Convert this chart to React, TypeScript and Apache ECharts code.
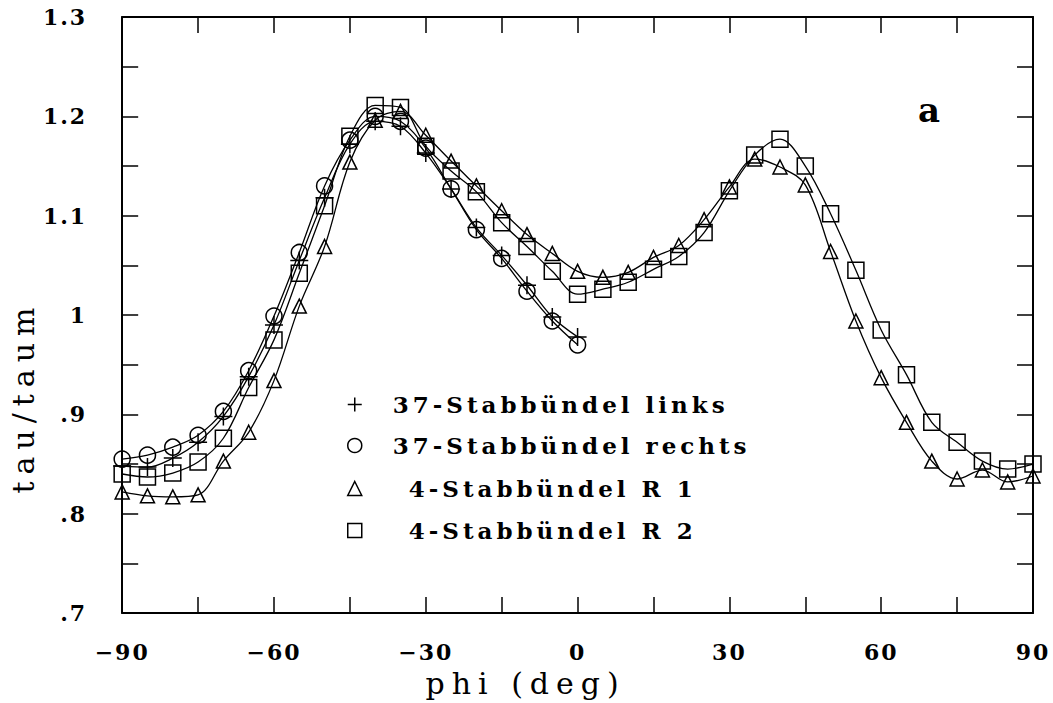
import React, { useEffect, useRef } from "react";
import * as echarts from "echarts";

// phi (deg) sample positions
const phiLinks = [-90, -85, -80, -75, -70, -65, -60, -55, -50, -45, -40, -35, -30, -25, -20, -15, -10, -5, 0];
const phiRods = [-90, -85, -80, -75, -70, -65, -60, -55, -50, -45, -40, -35, -30, -25, -20, -15, -10, -5, 0,
  5, 10, 15, 20, 25, 30, 35, 40, 45, 50, 55, 60, 65, 70, 75, 80, 85, 90];

// tau/taum values
const tauLinks = [0.848, 0.847, 0.856, 0.872, 0.898, 0.938, 0.990, 1.055, 1.118, 1.172, 1.195, 1.190, 1.163, 1.127, 1.088, 1.060, 1.030, 0.998, 0.978];
const tauRechts = [0.855, 0.859, 0.867, 0.879, 0.903, 0.944, 0.999, 1.063, 1.130, 1.176, 1.200, 1.195, 1.168, 1.127, 1.086, 1.057, 1.024, 0.994, 0.970];
const tauR1 = [0.822, 0.818, 0.817, 0.819, 0.853, 0.882, 0.934, 1.009, 1.069, 1.154, 1.196, 1.205, 1.181, 1.155, 1.130, 1.105, 1.081, 1.062, 1.044,
  1.038, 1.043, 1.058, 1.070, 1.096, 1.129, 1.157, 1.149, 1.131, 1.064, 0.994, 0.937, 0.892, 0.853, 0.835, 0.844, 0.832, 0.838];
const tauR2 = [0.840, 0.837, 0.841, 0.852, 0.876, 0.927, 0.975, 1.042, 1.110, 1.180, 1.211, 1.209, 1.170, 1.145, 1.124, 1.093, 1.069, 1.044, 1.021,
  1.026, 1.033, 1.046, 1.059, 1.083, 1.125, 1.161, 1.177, 1.150, 1.102, 1.045, 0.985, 0.940, 0.892, 0.872, 0.853, 0.845, 0.850];

const seriesNames = ["37-Stabbündel links", "37-Stabbündel rechts", "4-Stabbündel R 1", "4-Stabbündel R 2"];
const xTitle = "phi (deg)";
const yTitle = "tau/taum";
const panelLabel = "a";

const FONT = "DejaVu Serif";
const PLUS = "path://M0,-10L0,10M-10,0L10,0";

export default function App() {
  const ref = useRef<HTMLDivElement>(null);
  useEffect(() => {
    const el = ref.current!;
    const chart = echarts.init(el, null, { renderer: "svg" });
    const markStyle = { color: "rgba(0,0,0,0)", borderColor: "#000", borderWidth: 1.5 };
    const line = (name: string, xs: number[], ys: number[], symbol: string, size: number) => ({
      name,
      type: "line",
      data: xs.map((x, i) => [x, ys[i]]),
      smooth: 0.35,
      symbol,
      symbolSize: size,
      showAllSymbol: true,
      lineStyle: { color: "#000", width: 1.3 },
      itemStyle: markStyle,
      emphasis: { disabled: true },
      z: 3,
    });
    const tick = { show: true, inside: true, length: 16, lineStyle: { color: "#000", width: 1.5 } };
    const minor = { show: true, splitNumber: 2, length: 16, lineStyle: { color: "#000", width: 1.5 } };
    const axLine = { show: true, onZero: false, lineStyle: { color: "#000", width: 2 } };
    const xBase = { type: "value", min: -90, max: 90, interval: 30, axisLine: axLine, axisTick: tick, minorTick: minor, splitLine: { show: false } };
    const yBase = { type: "value", min: 0.7, max: 1.3, interval: 0.1, axisLine: axLine, axisTick: tick, minorTick: minor, splitLine: { show: false } };
    const legendBase = {
      orient: "vertical",
      itemWidth: 14,
      itemHeight: 14,
      itemStyle: markStyle,
      selectedMode: false,
      textStyle: { fontFamily: FONT, fontWeight: "bold", fontSize: 23, color: "#000" },
    };
    chart.setOption({
      animation: false,
      backgroundColor: "#fff",
      grid: { left: 122, right: 20, top: 17, bottom: 89 },
      xAxis: [
        {
          ...xBase,
          position: "bottom",
          axisLabel: {
            margin: 28,
            fontFamily: FONT, fontWeight: "bold", fontSize: 22, color: "#000",
            formatter: (v: number) => (v < 0 ? "\u2212" + Math.abs(v) : String(v)),
          },
          name: xTitle,
          nameLocation: "middle",
          nameGap: 45,
          nameTextStyle: { fontFamily: FONT, fontSize: 30, color: "#000", padding: [0, 104, 0, 0] },
        },
        { ...xBase, position: "top", axisLabel: { show: false } },
      ],
      yAxis: [
        {
          ...yBase,
          position: "left",
          axisLabel: {
            margin: 35,
            fontFamily: FONT, fontWeight: "bold", fontSize: 22, color: "#000",
            formatter: (v: number) => {
              const r = Math.round(v * 10) / 10;
              if (r === 1) return "1";
              if (r < 1) return "." + Math.round(r * 10);
              return r.toFixed(1);
            },
          },
          name: yTitle,
          nameLocation: "middle",
          nameRotate: 90,
          nameGap: 80,
          nameTextStyle: { fontFamily: FONT, fontSize: 30, color: "#000", padding: [0, 164, 0, 0] },
        },
        { ...yBase, position: "right", axisLabel: { show: false } },
      ],
      legend: [
        {
          ...legendBase,
          left: 342, top: 388, itemGap: 18,
          data: [{ name: seriesNames[0], icon: PLUS }, { name: seriesNames[1], icon: "circle" }],
          textStyle: { ...legendBase.textStyle, padding: [0, 0, 0, 26] },
        },
        {
          ...legendBase,
          left: 342, top: 472, itemGap: 19,
          data: [{ name: seriesNames[2], icon: "triangle" }, { name: seriesNames[3], icon: "rect" }],
          textStyle: { ...legendBase.textStyle, padding: [0, 0, 0, 42] },
        },
      ],
      graphic: [
        {
          type: "text", x: 929, y: 110,
          style: { text: panelLabel, fontFamily: FONT, fontWeight: "bold", fontSize: 34, fill: "#000", align: "center", verticalAlign: "middle" },
        },
      ],
      series: [
        line(seriesNames[0], phiLinks, tauLinks, PLUS, 18),
        line(seriesNames[1], phiLinks, tauRechts, "circle", 16),
        line(seriesNames[2], phiRods, tauR1, "triangle", 14),
        line(seriesNames[3], phiRods, tauR2, "rect", 16),
      ],
    });
    const spacing = () => {
      el.querySelectorAll("text").forEach((t) => {
        const s = (t.textContent || "").trim();
        if (seriesNames.includes(s)) t.setAttribute("letter-spacing", "4");
        else if (s === xTitle || s === yTitle) t.setAttribute("letter-spacing", "7");
        else if (/^[\u22120-9.]+$/.test(s)) t.setAttribute("letter-spacing", "2");
      });
    };
    chart.on("finished", spacing);
    spacing();
    const timer = setTimeout(spacing, 50);
    return () => {
      clearTimeout(timer);
      chart.dispose();
    };
  }, []);
  return <div ref={ref} style={{ position: "fixed", left: 0, top: 0, width: 1053, height: 703, background: "#fff" }} />;
}
